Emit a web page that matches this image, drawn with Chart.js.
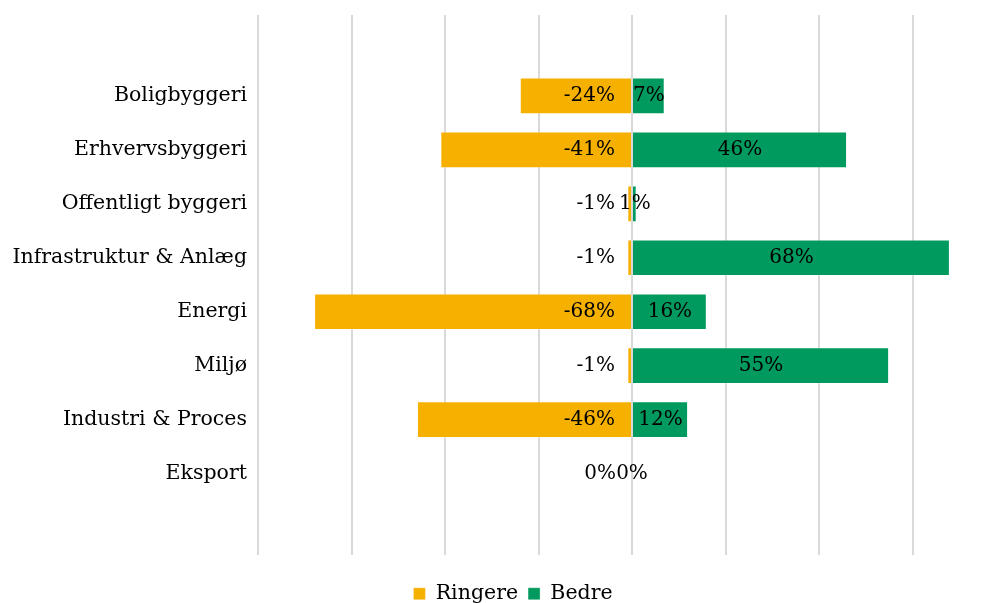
<!DOCTYPE html>
<html>
<head>
<meta charset="utf-8">
<script src="https://cdn.jsdelivr.net/npm/chart.js@4"></script>
<style>
  html, body { margin: 0; padding: 0; background: #fff; overflow: hidden; }
  #wrap { position: relative; width: 1026px; height: 614px; }
</style>
</head>
<body>
<div id="wrap"><canvas id="BarometerChart"></canvas></div>
<script>
// empty first/last categories keep the gap above and below the bars
var categories = ['', 'Boligbyggeri', 'Erhvervsbyggeri', 'Offentligt byggeri', 'Infrastruktur & Anlæg', 'Energi', 'Miljø', 'Industri & Proces', 'Eksport', ''];
var ringere = [null, -24, -41, -1, -1, -68, -1, -46, 0, null];
var bedre = [null, 7, 46, 1, 68, 16, 55, 12, 0, null];
var x_ticks = [-80, -60, -40, -20, 0, 20, 40, 60, 80];

var serif = "'DejaVu Serif', 'Liberation Serif', serif";

var barLabels = {
  id: 'barLabels',
  afterDatasetsDraw(chart) {
    var ctx = chart.ctx;
    ctx.save();
    ctx.font = '20px ' + serif;
    ctx.fillStyle = '#000';
    ctx.textBaseline = 'middle';
    chart.data.datasets.forEach((ds, i) => {
      var meta = chart.getDatasetMeta(i);
      meta.data.forEach((bar, j) => {
        var v = ds.data[j];
        if (v === null) return;
        var txt = Math.round(v) + '%';
        if (i == 0) {
          ctx.textAlign = 'right';
          ctx.fillText(txt, bar.base - 16, bar.y);
        } else {
          ctx.textAlign = 'center';
          ctx.fillText(txt, (bar.x + bar.base) / 2, bar.y);
        }
      });
    });
    ctx.restore();
  }
};

// nudge the legend a little to the right, like the original
var legendShift = {
  id: 'legendShift',
  afterLayout(chart) {
    chart.legend.left += 10;
    chart.legend.right += 10;
  }
};

var ctx = document.getElementById('BarometerChart');
var myBarChart = new Chart(ctx, {
  type: 'bar',
  data: {
    labels: categories,
    datasets: [
      { label: 'Ringere', data: ringere, backgroundColor: '#F5B000', borderColor: 'rgba(255,255,255,0.35)', borderWidth: 1, barPercentage: 0.68, categoryPercentage: 1 },
      { label: 'Bedre', data: bedre, backgroundColor: '#00995E', borderColor: 'rgba(255,255,255,0.35)', borderWidth: 1, barPercentage: 0.68, categoryPercentage: 1 }
    ]
  },
  options: {
    indexAxis: 'y',
    responsive: true,
    maintainAspectRatio: false,
    animation: false,
    layout: { padding: { top: 15, right: 20, left: 0, bottom: 0 } },
    plugins: {
      tooltip: { enabled: false },
      legend: {
        position: 'bottom',
        labels: {
          boxWidth: 12, boxHeight: 12, padding: 10, color: '#000',
          font: { family: serif, size: 20.5 }
        }
      }
    },
    scales: {
      x: {
        stacked: true,
        min: -80, max: 80,
        afterBuildTicks: axis => { axis.ticks = x_ticks.map(v => ({ value: v })); },
        afterFit: axis => { axis.height = 19; axis.paddingLeft = 0; axis.paddingRight = 0; },
        ticks: { display: false },
        grid: { color: '#D9D9D9', lineWidth: 2, drawTicks: false },
        border: { display: false }
      },
      y: {
        stacked: true,
        afterFit: axis => { axis.width = 258; axis.paddingTop = 0; axis.paddingBottom = 0; },
        ticks: { color: '#000', padding: 11, font: { family: serif, size: 20.5 } },
        grid: { display: false, drawTicks: false },
        border: { display: false }
      }
    }
  },
  plugins: [barLabels, legendShift]
});
</script>
</body>
</html>
